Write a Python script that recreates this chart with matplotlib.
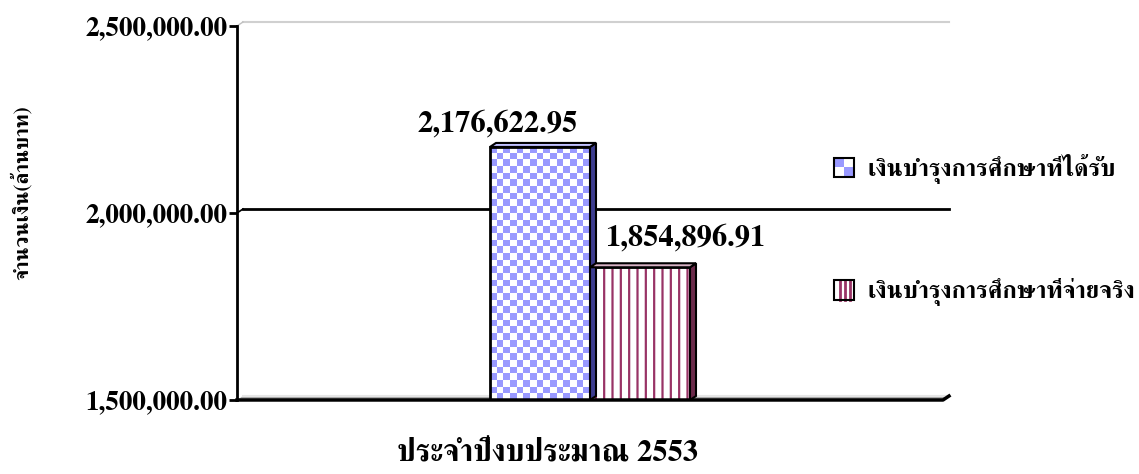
import numpy as np
import matplotlib
matplotlib.use("Agg")
import matplotlib.pyplot as plt
from matplotlib.colors import ListedColormap
from matplotlib.patches import Rectangle, Polygon
from matplotlib.legend_handler import HandlerBase
from matplotlib.lines import Line2D

plt.rcParams['font.family'] = ['FreeSerif', 'Liberation Serif', 'DejaVu Serif']
plt.rcParams['font.weight'] = 'bold'
plt.rcParams['hatch.linewidth'] = 1.6

# data
series = ["เงินบำรุงการศึกษาที่ได้รับ", "เงินบำรุงการศึกษาที่จ่ายจริง"]
values = [2176622.95, 1854896.91]
yticks = [1500000, 2000000, 2500000]
xlabel = "ประจำปีงบประมาณ 2553"
ylabel = "จำนวนเงิน(ล้านบาท)"

blue = '#9999ff'
maroon = '#993366'

W, H = 1139, 474
fig = plt.figure(figsize=(W / 100, H / 100), dpi=100)
ax = fig.add_axes([237 / W, 74 / H, 706 / W, 374 / H])
ymin, ymax = yticks[0], yticks[-1]

w = 100 / 706
xs = [-w / 2, w / 2]
# 3D depth in data units (6 px right, 4 px up)
ddx = 6 / 706
ddy = 4 / 374 * (ymax - ymin)

# back wall gridlines
ax.plot([-0.5 + ddx, 0.5 + ddx], [ymax + ddy] * 2, color='#d0d0d0', lw=1.5, clip_on=False, zorder=1)
ax.plot([-0.5, -0.5 + ddx], [ymax, ymax + ddy], color='#c0c0c0', lw=1, clip_on=False, zorder=1)
ax.plot([-0.5 + ddx, 0.5 + ddx], [yticks[1] + ddy] * 2, color='black', lw=2, clip_on=False, zorder=1)
ax.plot([-0.5, -0.5 + ddx], [yticks[1], yticks[1] + ddy], color='black', lw=1.2, clip_on=False, zorder=1)

# floor
ax.add_patch(Polygon([(-0.5, ymin), (0.5, ymin), (0.5 + ddx, ymin + ddy), (-0.5 + ddx, ymin + ddy)],
                     closed=True, facecolor='#a8a8a8', edgecolor='none', clip_on=False, zorder=1))
ax.plot([-0.5 + ddx, 0.5 + ddx], [ymin + ddy] * 2, color='#e6e6e6', lw=1.5, clip_on=False, zorder=1)
ax.plot([-0.5, 0.5, 0.5 + ddx], [ymin, ymin, ymin + ddy], color='black', lw=2.5, clip_on=False, zorder=4)

# bar 1 : checker pattern
b1 = ax.bar(xs[0], values[0], width=w, facecolor='none', edgecolor='black', lw=2, zorder=3)[0]
ny = int(round((values[0] - ymin) / (ymax - ymin) * 374 / 6.7))
checker = (np.add.outer(np.arange(ny), np.arange(15)) % 2)
im = ax.imshow(checker, cmap=ListedColormap([blue, 'white']), interpolation='nearest', aspect='auto',
               extent=(xs[0] - w / 2, xs[0] + w / 2, ymin, values[0]), zorder=2)
im.set_clip_path(b1)

# bar 2 : vertical stripes
ax.bar(xs[1], values[1], width=w, color='white', hatch='||', edgecolor=maroon, lw=0, zorder=2)
ax.bar(xs[1], values[1], width=w, facecolor='none', edgecolor='black', lw=2, zorder=3)

# side and top faces
side_cols = ['#3d3d8f', '#6b2a4a']
top_cols = ['#c2c2ff', '#d9b3c6']
for x, v, sc, tc in zip(xs, values, side_cols, top_cols):
    x0, x1 = x - w / 2, x + w / 2
    ax.add_patch(Polygon([(x1, ymin), (x1 + ddx, ymin + ddy), (x1 + ddx, v + ddy), (x1, v)],
                         closed=True, facecolor=sc, edgecolor='black', lw=1.5, zorder=3, clip_on=False))
    ax.add_patch(Polygon([(x0, v), (x0 + ddx, v + ddy), (x1 + ddx, v + ddy), (x1, v)],
                         closed=True, facecolor=tc, edgecolor='black', lw=1.5, zorder=3, clip_on=False))

# value labels
offs = [(-42, 9), (45, 16)]
for x, v, o in zip(xs, values, offs):
    ax.annotate(f"{v:,.2f}", (x, v), xytext=(o[0] * 0.72, o[1] * 0.72), textcoords='offset points',
                ha='center', va='bottom', fontsize=22, fontweight='bold', zorder=5)

ax.set_xlim(-0.5, 0.5)
ax.set_ylim(ymin, ymax)
ax.set_yticks(yticks)
ax.set_yticklabels([f"{t:,.2f}" for t in yticks], fontsize=19.5, fontweight='bold')
ax.set_xticks([])
for s in ['top', 'right', 'bottom']:
    ax.spines[s].set_visible(False)
ax.spines['left'].set_linewidth(2)
ax.tick_params(axis='y', direction='out', length=6, width=2, pad=1)
ax.patch.set_alpha(0)


class CheckerHandler(HandlerBase):
    def create_artists(self, legend, orig_handle, xdescent, ydescent, width, height, fontsize, trans):
        s = min(width, height)
        x0 = -xdescent + (width - s) / 2
        y0 = -ydescent + (height - s) / 2
        arts = []
        for i in range(2):
            for j in range(2):
                c = blue if (i + j) % 2 == 0 else 'white'
                arts.append(Rectangle((x0 + j * s / 2, y0 + (1 - i) * s / 2), s / 2, s / 2,
                                      facecolor=c, edgecolor='none', transform=trans))
        arts.append(Rectangle((x0, y0), s, s, facecolor='none', edgecolor='black', lw=1.5, transform=trans))
        return arts


class StripeHandler(HandlerBase):
    def create_artists(self, legend, orig_handle, xdescent, ydescent, width, height, fontsize, trans):
        s = min(width, height)
        x0 = -xdescent + (width - s) / 2
        y0 = -ydescent + (height - s) / 2
        arts = [Rectangle((x0, y0), s, s, facecolor='white', edgecolor='none', transform=trans)]
        for f in [0.3, 0.55, 0.8]:
            arts.append(Line2D([x0 + f * s] * 2, [y0, y0 + s], color=maroon, lw=2, transform=trans))
        arts.append(Rectangle((x0, y0), s, s, facecolor='none', edgecolor='black', lw=1.5, transform=trans))
        return arts


h1 = Rectangle((0, 0), 1, 1)
h2 = Rectangle((0, 0), 1, 1, hatch='|')
fig.legend([h1, h2], series, handler_map={h1: CheckerHandler(), h2: StripeHandler()},
           loc='center left', bbox_to_anchor=(824 / W, 1 - 230 / H), frameon=False,
           prop={'size': 17.5, 'weight': 'bold'}, handlelength=0.85, handleheight=0.85,
           handletextpad=0.55, labelspacing=3.9, borderaxespad=0)

fig.text(548 / W, 1 - 454 / H, xlabel, ha='center', va='center', fontsize=22, fontweight='bold')
fig.text(21 / W, 1 - 193 / H, ylabel, ha='center', va='center', rotation=90, fontsize=15, fontweight='bold')

fig.savefig("out.png", dpi=100)
